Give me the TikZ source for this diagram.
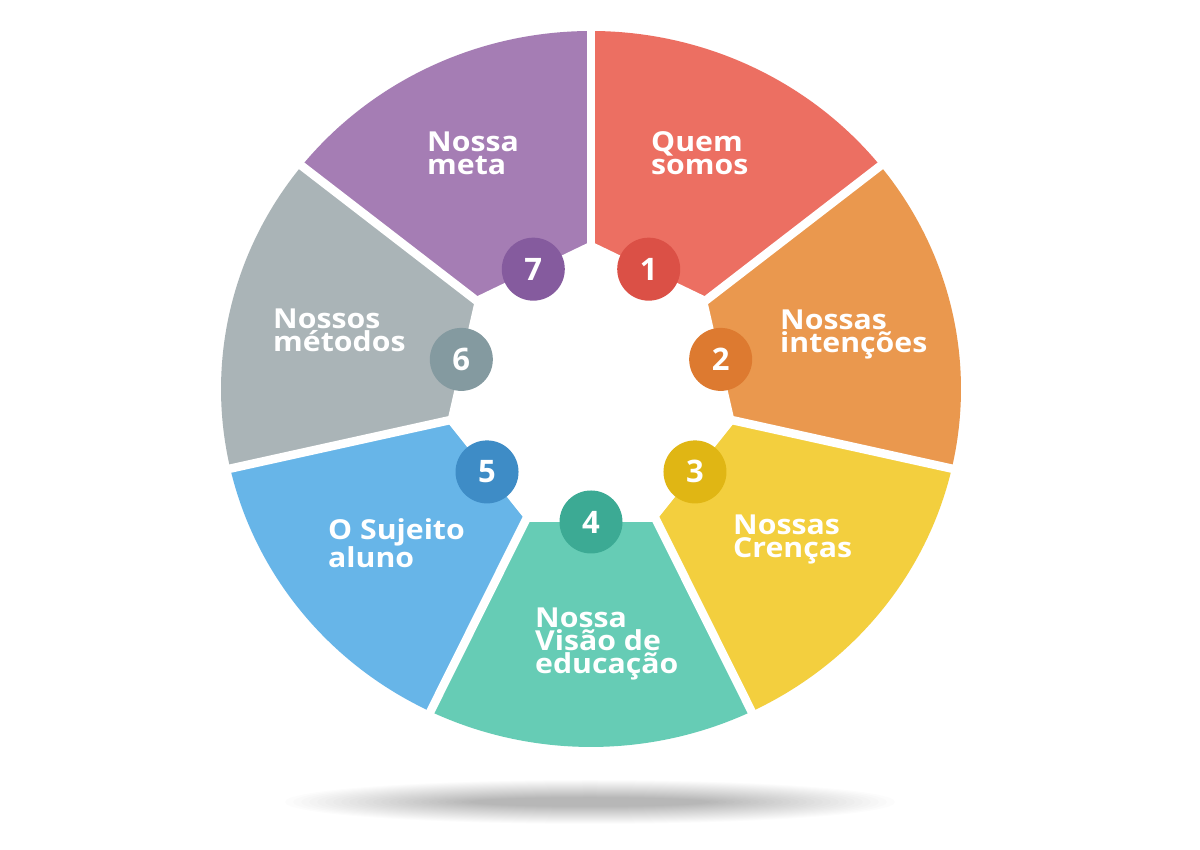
\documentclass[tikz,border=0pt]{standalone}
\usepackage{fontspec}
\setmainfont{Open Sans}
\newfontfamily\labfont{Open Sans}[FakeStretch=1.1]
\usetikzlibrary{calc}
\definecolor{sA}{RGB}{236,111,98}
\definecolor{sB}{RGB}{234,152,78}
\definecolor{sC}{RGB}{243,207,62}
\definecolor{sD}{RGB}{102,204,181}
\definecolor{sE}{RGB}{103,181,232}
\definecolor{sF}{RGB}{170,180,183}
\definecolor{sG}{RGB}{165,125,180}
\definecolor{cA}{RGB}{219,80,70}
\definecolor{cB}{RGB}{221,122,48}
\definecolor{cC}{RGB}{224,182,20}
\definecolor{cD}{RGB}{60,170,148}
\definecolor{cE}{RGB}{62,140,198}
\definecolor{cF}{RGB}{132,154,160}
\definecolor{cG}{RGB}{133,91,158}
\tikzset{
  numcirc/.style={circle, minimum size=63pt, inner sep=0pt, text=white,
    font=\fontsize{31}{31}\selectfont\bfseries},
  lab/.style={anchor=base west, inner sep=0pt, align=left, text=white,
    font=\fontsize{27.5}{23}\selectfont\labfont\bfseries},
  gap/.style={white, line width=8.5pt}
}
\begin{document}
\begin{tikzpicture}[x=1pt,y=1pt]
\useasboundingbox (0,0) rectangle (1200,850);
\fill[white] (0,0) rectangle (1200,850);
% shadow
\foreach \k in {0,...,23} {
  \fill[black, opacity=0.011] (590,48) ellipse [x radius={305-8*\k}, y radius={22-0.75*\k}];
}
\coordinate (c) at (591,461);
% segments
\foreach \i/\col in {0/sA,1/sB,2/sC,3/sD,4/sE,5/sF,6/sG} {
  \pgfmathsetmacro\aa{90-\i*360/7}
  \pgfmathsetmacro\bb{\aa-360/7}
  \fill[\col] (c) -- ($(c)+(\aa:370 and 358)$)
     arc[start angle=\aa, end angle=\bb, x radius=370, y radius=358] -- cycle;
}
% inner heptagon hole
\fill[white] ($(c)+(90:147.6)$)
  \foreach \k in {1,...,6} { -- ($(c)+({90-\k*360/7}:147.6)$) } -- cycle;
% gaps
\foreach \i in {0,...,6} {
  \pgfmathsetmacro\aa{90-\i*360/7}
  \draw[gap] (c) -- ($(c)+(\aa:395 and 382)$);
}
% number circles
\foreach \i/\col in {0/cA,1/cB,2/cC,3/cD,4/cE,5/cF,6/cG} {
  \pgfmathsetmacro\mm{90-\i*360/7-360/14}
  \pgfmathtruncatemacro\nn{\i+1}
  \node[numcirc, fill=\col] (n\nn) at ($(c)+(\mm:133)$) {\nn};
}
% labels (anchor = baseline of the last line)
\node[lab] (t1) at (651,675) {Quem\\somos};
\node[lab] (t2) at (780,497) {Nossas\\intenções};
\node[lab] (t3) at (733,292) {Nossas\\Crenças};
\node[lab] (t4) at (535,176) {Nossa\\Visão de\\educação};
\node[lab] (t5) at (328,282) {O Sujeito\\aluno};
\node[lab] (t6) at (273,498) {Nossos\\métodos};
\node[lab] (t7) at (427,675) {Nossa\\meta};
\end{tikzpicture}
\end{document}
